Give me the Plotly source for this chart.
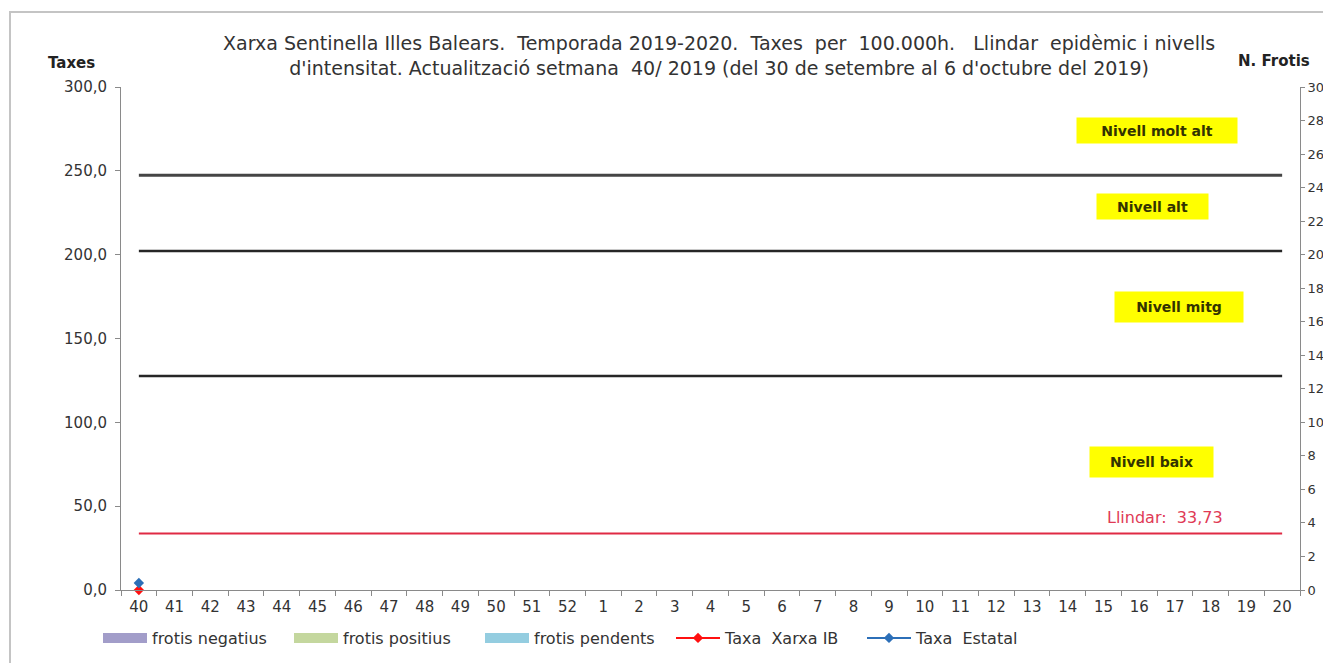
import plotly.graph_objects as go

# ---- data ----
weeks = [str(w) for w in list(range(40, 53)) + list(range(1, 21))]
taxa_xarxa_ib = [0.0] + [None] * 32
taxa_estatal = [4.2] + [None] * 32
frotis_negatius = [0] + [None] * 32
frotis_positius = [0] + [None] * 32
frotis_pendents = [0] + [None] * 32
llindar = 33.73
nivell_mitg = 127.6
nivell_alt = 202.2
nivell_molt_alt = 247.3
y_ticks = [0, 50, 100, 150, 200, 250, 300]
y2_ticks = list(range(0, 31, 2))

# page has an 8px body margin: figure coords = screen coords - 8
OFF = 8
PL, PR, PT, PB = 121, 1300, 87, 590   # plot area in screen px
W, H = 1331 - OFF, 663 - OFF
L, T = PL - OFF, PT - OFF
R, B = W - (PR - OFF), H - (PB - OFF)


def px(x):
    return (x - PL) / (PR - PL)


def py(y):
    return (PB - y) / (PB - PT)


FONT = "Liberation Sans, Arial, sans-serif"
WIDE = "DejaVu Sans, sans-serif"
col_neg = "#a29dc9"
col_pos = "#c4d79e"
col_pend = "#94cde0"

fig = go.Figure()

# bars (no data yet) on secondary axis
for name, vals, col in [("frotis negatius", frotis_negatius, col_neg),
                        ("frotis positius", frotis_positius, col_pos),
                        ("frotis pendents", frotis_pendents, col_pend)]:
    fig.add_trace(go.Bar(x=weeks, y=vals, name=name, marker_color=col,
                         yaxis="y2", showlegend=False, legendgroup=name))
    fig.add_trace(go.Scatter(x=[weeks[0]], y=[None], mode="lines", name=name,
                             line=dict(color=col, width=11), legendgroup=name,
                             hoverinfo="skip"))

# threshold lines
for val, col, wdt in [(nivell_molt_alt, "#454545", 3), (nivell_alt, "#262626", 2.5),
                      (nivell_mitg, "#262626", 2.5), (llindar, "#e02a44", 2)]:
    fig.add_trace(go.Scatter(x=weeks, y=[val] * len(weeks), mode="lines",
                             line=dict(color=col, width=wdt), showlegend=False,
                             hoverinfo="skip"))

fig.add_trace(go.Scatter(x=weeks, y=taxa_xarxa_ib, mode="lines+markers", name="Taxa  Xarxa IB",
                         line=dict(color="#ff1010", width=2), cliponaxis=False,
                         marker=dict(symbol="diamond", size=8, color="#ff1010")))
fig.add_trace(go.Scatter(x=weeks, y=taxa_estatal, mode="lines+markers", name="Taxa  Estatal",
                         line=dict(color="#2c6fb8", width=2), cliponaxis=False,
                         marker=dict(symbol="diamond", size=8, color="#2c6fb8")))

annotations = [
    dict(text="Xarxa Sentinella Illes Balears.  Temporada 2019-2020.  Taxes  per  100.000h.   Llindar  epidèmic i nivells"
              "<br>d'intensitat. Actualització setmana  40/ 2019 (del 30 de setembre al 6 d'octubre del 2019)",
         x=px(719), y=py(55), xref="paper", yref="paper", showarrow=False,
         xanchor="center", yanchor="middle", font=dict(family=WIDE, size=19, color="#333333")),
    dict(text="<b>Taxes</b>", x=px(71), y=py(63), xref="paper", yref="paper", showarrow=False,
         xanchor="center", yanchor="middle", font=dict(family=WIDE, size=15, color="#222222")),
    dict(text="<b>N. Frotis</b>", x=px(1274), y=py(61), xref="paper", yref="paper", showarrow=False,
         xanchor="center", yanchor="middle", font=dict(family=WIDE, size=15, color="#222222")),
    dict(text="Llindar:  33,73", x=px(1165), y=py(517), xref="paper", yref="paper", showarrow=False,
         xanchor="center", yanchor="middle", font=dict(family=WIDE, size=16, color="#e03a55")),
]
for txt, cx, cy, w, h in [("Nivell molt alt", 1157, 130.5, 160, 25),
                          ("Nivell alt", 1152.5, 206.5, 111, 25),
                          ("Nivell mitg", 1179, 307, 128, 30),
                          ("Nivell baix", 1151.5, 462, 123, 30)]:
    annotations.append(dict(text="<b>" + txt + "</b>", x=px(cx), y=py(cy), xref="paper", yref="paper",
                            showarrow=False, xanchor="center", yanchor="middle", width=w, height=h,
                            bgcolor="#ffff00", borderpad=0,
                            font=dict(family=WIDE, size=14, color="#333300")))

fig.update_layout(
    width=W, height=H,
    margin=dict(l=L, r=R, t=T, b=B, autoexpand=False),
    plot_bgcolor="white", paper_bgcolor="white",
    separators=",.",
    barmode="stack",
    font=dict(family=FONT, size=14, color="#333333"),
    annotations=annotations,
    shapes=[dict(type="rect", xref="paper", yref="paper", x0=px(10), x1=px(1345),
                 y0=py(680), y1=py(12), line=dict(color="#c4c4c4", width=2), layer="below")],
    xaxis=dict(type="category", categoryorder="array", categoryarray=weeks,
               range=[-0.5, len(weeks) - 0.5],
               showline=True, linecolor="#8a8a8a", linewidth=1, showgrid=False,
               ticks="outside", tickson="boundaries", ticklen=5, tickcolor="#8a8a8a",
               ticklabelstandoff=3,
               tickfont=dict(family=WIDE, size=15, color="#333333")),
    yaxis=dict(range=[0, 300], tickvals=y_ticks, tickformat=".1f", showline=True,
               linecolor="#8a8a8a", linewidth=1, showgrid=False, zeroline=False,
               ticks="outside", ticklen=5, tickcolor="#8a8a8a", ticklabelstandoff=5,
               tickfont=dict(family=WIDE, size=15, color="#333333")),
    yaxis2=dict(range=[0, 30], tickvals=y2_ticks, overlaying="y", side="right",
                showline=True, linecolor="#8a8a8a", linewidth=1, showgrid=False, zeroline=False,
                ticks="outside", ticklen=4, tickcolor="#8a8a8a",
                tickfont=dict(family=WIDE, size=13, color="#333333")),
    legend=dict(orientation="h", x=px(98), y=py(638), xanchor="left", yanchor="middle",
                entrywidth=132, entrywidthmode="pixels", itemwidth=44,
                font=dict(family=WIDE, size=16, color="#333333"),
                bgcolor="rgba(0,0,0,0)"),
    showlegend=True,
)

fig.write_html("out.html")
